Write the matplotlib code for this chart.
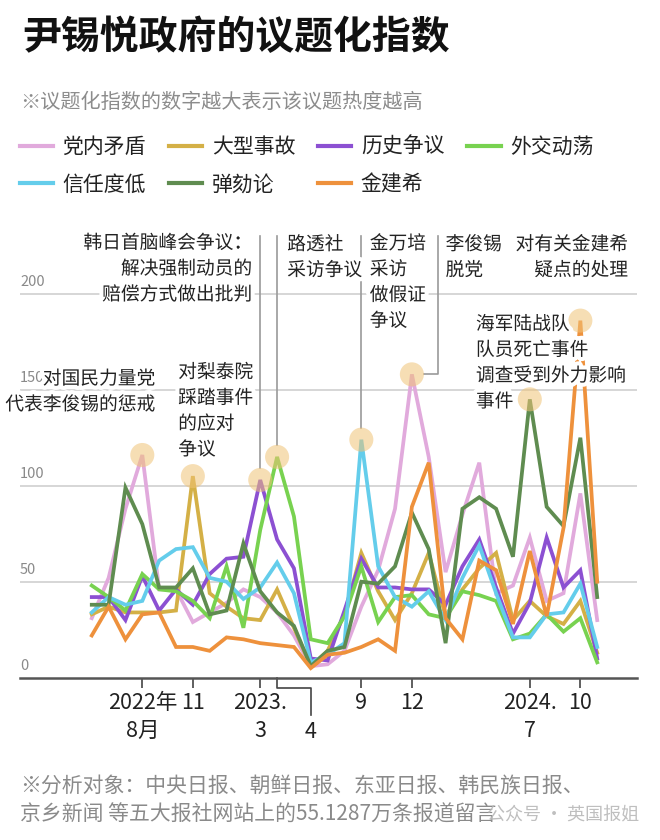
import numpy as np
import matplotlib
matplotlib.use('Agg')
import matplotlib.pyplot as plt
import matplotlib.patheffects as pe
import matplotlib.transforms as mtransforms
from matplotlib.lines import Line2D

plt.rcParams['font.family'] = ['Noto Sans CJK SC', 'DejaVu Sans']

# %% data (monthly, 2022-05 .. 2024-11)

months = ['2022-05', '2022-06', '2022-07', '2022-08', '2022-09', '2022-10', '2022-11', '2022-12',
          '2023-01', '2023-02', '2023-03', '2023-04', '2023-05', '2023-06', '2023-07', '2023-08',
          '2023-09', '2023-10', '2023-11', '2023-12', '2024-01', '2024-02', '2024-03', '2024-04',
          '2024-05', '2024-06', '2024-07', '2024-08', '2024-09', '2024-10', '2024-11']

party   = [31, 52, 88, 116, 46, 46, 29, 34, 39, 46, 42, 34, 22, 6, 7, 14, 37, 56, 88, 158, 115, 55, 85, 112, 44, 48, 73, 40, 44, 96, 30]
disaster = [33, 37, 34, 34, 34, 35, 105, 44, 37, 31, 30, 46, 26, 6, 14, 33, 65, 45, 30, 44, 65, 32, 46, 57, 65, 30, 40, 32, 28, 40, 13]
history = [42, 42, 30, 53, 35, 46, 38, 54, 62, 63, 103, 72, 57, 10, 9, 35, 62, 47, 47, 46, 46, 38, 58, 72, 47, 23, 39, 73, 47, 56, 10]
diplomacy = [48, 42, 35, 54, 46, 45, 40, 31, 58, 26, 77, 115, 84, 20, 18, 32, 58, 29, 42, 43, 33, 31, 45, 43, 40, 20, 23, 33, 24, 31, 8]
trust   = [34, 42, 38, 40, 61, 67, 68, 52, 50, 41, 47, 60, 44, 8, 12, 18, 124, 58, 42, 37, 45, 30, 52, 69, 44, 21, 21, 33, 34, 49, 16]
impeach = [38, 38, 99, 80, 47, 47, 57, 33, 35, 70, 45, 34, 27, 6, 14, 16, 50, 49, 58, 86, 67, 18, 88, 94, 88, 63, 145, 89, 79, 125, 42]
kim     = [22, 37, 20, 33, 34, 16, 16, 14, 21, 20, 18, 17, 16, 5, 12, 13, 16, 20, 14, 89, 112, 31, 20, 61, 56, 28, 66, 32, 78, 186, 50]

series = {
    '党内矛盾': (party, '#e1aadc'),
    '大型事故': (disaster, '#d4b046'),
    '历史争议': (history, '#8c50d2'),
    '外交动荡': (diplomacy, '#78d250'),
    '信任度低': (trust, '#64cdeb'),
    '弹劾论': (impeach, '#5f8c50'),
    '金建希': (kim, '#ee913c'),
}

peaks = [('党内矛盾', '2022-08'), ('大型事故', '2022-11'), ('历史争议', '2023-03'),
         ('外交动荡', '2023-04'), ('信任度低', '2023-09'), ('党内矛盾', '2023-12'),
         ('弹劾论', '2024-07'), ('金建希', '2024-10')]

tick_months = ['2022-08', '2022-11', '2023-03', '2023-09', '2023-12', '2024-07', '2024-10']
tick_labels = ['2022年\n8月', '11', '2023.\n3', '9', '12', '2024.\n7', '10']

notes = [
    ('对国民力量党\n代表李俊锡的惩戒', 3.77, 149, 'right'),
    ('对梨泰院\n踩踏事件\n的应对\n争议', 5.13, 139, 'left'),
    ('韩日首脑峰会争议：\n解决强制动员的\n赔偿方式做出批判', 9.52, 213, 'right'),
    ('路透社\n采访争议', 11.6, 219, 'left'),
    ('金万培\n采访\n做假证\n争议', 16.5, 206, 'left'),
    ('李俊锡\n脱党', 21.0, 219, 'left'),
    ('对有关金建希\n疑点的处理', 31.83, 219, 'right'),
    ('海军陆战队\n队员死亡事件\n调查受到外力影响\n事件', 22.8, 164, 'left'),
]

# %% figure

fig = plt.figure(figsize=(6.6, 8.4), dpi=100)
ax = fig.add_axes([0.0303, 0.1932, 0.9348, 0.5449])
x = np.arange(len(months))

for v in [50, 100, 150, 200]:
    ax.axhline(v, color='#cfcfcf', lw=1.2, zorder=0)
ylab_tr = mtransforms.blended_transform_factory(ax.transAxes, ax.transData)
for v in [0, 50, 100, 150, 200]:
    ax.text(0.0, v + 2.5, str(v), transform=ylab_tr, ha='left', va='bottom',
            fontsize=10.5, color='#8a8a8a', zorder=1)

for name, (vals, c) in series.items():
    ax.plot(x, vals, color=c, lw=2.7, solid_joinstyle='miter', zorder=2)

px = [months.index(m) for _, m in peaks]
py = [series[s][0][months.index(m)] for s, m in peaks]
ax.scatter(px, py, s=300, color='#f0c377', alpha=0.55, edgecolors='none', zorder=3)

# leader lines
for s, m in [('历史争议', '2023-03'), ('外交动荡', '2023-04'), ('信任度低', '2023-09')]:
    i = months.index(m)
    ax.plot([i, i], [230, series[s][0][i] + 6], color='#9a9a9a', lw=1.2, zorder=1)
i = months.index('2023-12')
ax.plot([i + 1.55, i + 1.55, i + 0.72], [230, party[i], party[i]], color='#9a9a9a', lw=1.2, zorder=1)

halo = [pe.withStroke(linewidth=6, foreground='white')]
for txt, tx, ty, ha in notes:
    ax.text(tx, ty, txt, ha=ha, va='center', fontsize=13.5, color='#222222',
            linespacing=1.3, zorder=6, path_effects=halo)

ax.set_xlim(-4.26, 32.36)
ax.set_ylim(0, 238.4)
for sp in ['left', 'right', 'top']:
    ax.spines[sp].set_visible(False)
ax.spines['bottom'].set_color('#555555')
ax.spines['bottom'].set_linewidth(1.8)
ax.spines['bottom'].set_zorder(7)
ax.set_yticks([])
ax.set_xticks([months.index(m) for m in tick_months])
ax.set_xticklabels(tick_labels, fontsize=15.5, color='#222222', linespacing=1.35)
ax.tick_params(axis='x', length=7.2, width=1.2, color='#444444', pad=3)

# the '4' tick, shifted right with a bracket
xtr = ax.get_xaxis_transform()
i4 = months.index('2023-04')
ax.plot([i4, i4, i4 + 2, i4 + 2], [0, -0.0225, -0.0225, -0.0815], transform=xtr,
        color='#444444', lw=1.2, clip_on=False)
ax.text(i4 + 2, -0.119, '4', transform=xtr, ha='center', va='center',
        fontsize=15.5, color='#222222')

# %% texts outside the axes

fig.text(22 / 660, 1 - 38 / 840, '尹锡悦政府的议题化指数', fontsize=28, weight='bold',
         color='#111111', va='center')
fig.text(20 / 660, 1 - 102 / 840, '※议题化指数的数字越大表示该议题热度越高', fontsize=14.5,
         color='#8c8c8c', va='center')

order = ['党内矛盾', '信任度低', '大型事故', '弹劾论', '历史争议', '金建希', '外交动荡']
handles = [Line2D([], [], color=series[n][1], lw=3) for n in order]
fig.legend(handles, order, loc='upper left', bbox_to_anchor=(0.03, 1 - 136 / 840), ncol=4,
           frameon=False, fontsize=15, handlelength=1.6, handletextpad=0.45,
           columnspacing=1.1, labelspacing=0.75, borderaxespad=0, borderpad=0,
           labelcolor='#222222')

fig.text(20 / 660, 1 - 801 / 840,
         '※分析对象：中央日报、朝鲜日报、东亚日报、韩民族日报、\n京乡新闻 等五大报社网站上的55.1287万条报道留言',
         fontsize=15, color='#8a8a8a', va='center', linespacing=1.35)
fig.text(639 / 660, 1 - 815 / 840, '公众号 · 英国报姐', fontsize=13, color='#b8b8b8',
         ha='right', va='center', alpha=0.9)

fig.savefig('out.png', dpi=100)
